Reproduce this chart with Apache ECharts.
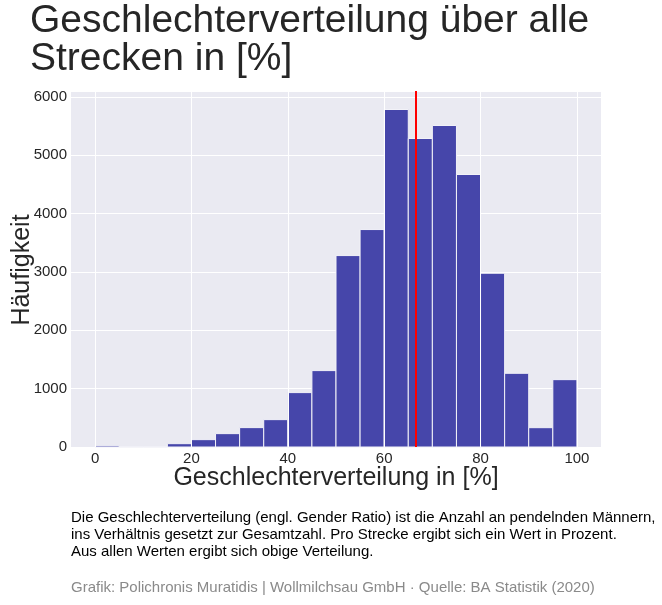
<!DOCTYPE html>
<html><head><meta charset="utf-8">
<script src="https://cdn.jsdelivr.net/npm/echarts@6/dist/echarts.min.js"></script>
<style>html,body{margin:0;padding:0;background:#fff}#c{width:662px;height:605px}</style>
</head><body><div id="c"></div>
<script>
// ---- data ----
const binStarts = [0,5,10,15,20,25,30,35,40,45,50,55,60,65,70,75,80,85,90,95];
const counts = [22,0,0,57,126,229,332,469,932,1309,3280,3726,5783,5286,5509,4669,2977,1263,331,1154];
const binWidth = 5;
const meanValue = 66.5;
const xTicks = [0,20,40,60,80,100];
const yTicks = [0,1000,2000,3000,4000,5000,6000];
const titleText = 'Geschlechterverteilung über alle\nStrecken in [%]';
const xName = 'Geschlechterverteilung in [%]';
const yName = 'Häufigkeit';
const noteText = 'Die Geschlechterverteilung (engl. Gender Ratio) ist die Anzahl an pendelnden Männern,\nins Verhältnis gesetzt zur Gesamtzahl. Pro Strecke ergibt sich ein Wert in Prozent.\nAus allen Werten ergibt sich obige Verteilung.';
const sourceText = 'Grafik: Polichronis Muratidis | Wollmilchsau GmbH · Quelle: BA Statistik (2020)';

const FONT = '"Liberation Sans", Arial, Helvetica, sans-serif';
const chart = echarts.init(document.getElementById('c'), null, {renderer: 'canvas'});
const histData = binStarts.map((s, i) => [s, counts[i]]);

chart.setOption({
  animation: false,
  backgroundColor: '#ffffff',
  title: {
    text: titleText, left: 30, top: 2, padding: 0,
    textStyle: {fontFamily: FONT, fontSize: 39, lineHeight: 38, fontWeight: 'normal', color: '#262626'}
  },
  grid: {left: 71, right: 61, top: 91, bottom: 158, show: true, backgroundColor: '#EAEAF2', borderWidth: 0},
  xAxis: {
    type: 'value', min: -5, max: 105,
    axisLine: {show: false}, axisTick: {show: false},
    splitLine: {show: false},
    axisLabel: {customValues: xTicks, formatter: v => String(v), fontFamily: FONT, fontSize: 15, color: '#262626', margin: 4}
  },
  yAxis: {
    type: 'value', min: 0, max: 6100, interval: 1000,
    axisLine: {show: false}, axisTick: {show: false},
    splitLine: {show: true, lineStyle: {color: '#ffffff', width: 1}},
    axisLabel: {customValues: yTicks, formatter: v => String(v), fontFamily: FONT, fontSize: 15, color: '#262626', margin: 4}
  },
  series: [
    {
      type: 'line', data: [], z: 1, silent: true,
      markLine: {
        silent: true, symbol: 'none', animation: false,
        label: {show: false},
        lineStyle: {color: '#ffffff', width: 1, type: 'solid'},
        data: xTicks.map(v => ({xAxis: v}))
      }
    },
    {
      type: 'custom', z: 2,
      data: histData,
      encode: {x: 0, y: 1},
      renderItem: function (params, api) {
        const x0 = api.value(0), v = api.value(1);
        const p0 = api.coord([x0, 0]);
        const p1 = api.coord([x0 + binWidth, v]);
        return {
          type: 'rect',
          shape: {x: p0[0], y: p1[1], width: p1[0] - p0[0], height: p0[1] - p1[1]},
          style: {fill: '#4646AA', stroke: '#F2F2F8', lineWidth: 1}
        };
      }
    },
    {
      type: 'line', data: [], z: 5, silent: true,
      markLine: {
        silent: true, symbol: 'none', animation: false, z: 5,
        label: {show: false},
        lineStyle: {color: '#FF0000', width: 2, type: 'solid'},
        data: [{xAxis: meanValue}]
      }
    }
  ],
  graphic: [
    {type: 'text', x: 22, y: 270, rotation: Math.PI / 2,
     style: {text: yName, font: '25px ' + FONT, fill: '#262626', textAlign: 'center', textVerticalAlign: 'middle'}},
    {type: 'text', x: 336, y: 478,
     style: {text: xName, font: '25px ' + FONT, fill: '#262626', textAlign: 'center', textVerticalAlign: 'middle'}},
    {type: 'text', x: 71, y: 510,
     style: {text: noteText, font: '15px ' + FONT, fill: '#000000', lineHeight: 16.7, textAlign: 'left', textVerticalAlign: 'top'}},
    {type: 'text', x: 71, y: 580,
     style: {text: sourceText, font: '15px ' + FONT, fill: '#8a8a8a', textAlign: 'left', textVerticalAlign: 'top'}}
  ]
});
</script>
</body></html>
